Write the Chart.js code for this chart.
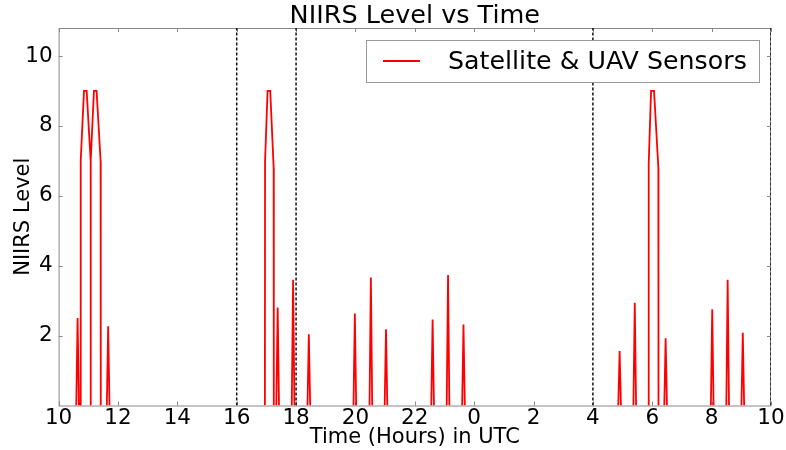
<!DOCTYPE html>
<html>
<head>
<meta charset="utf-8">
<script src="https://cdn.jsdelivr.net/npm/chart.js@4"></script>
<style>
  body { margin: 0; background: #fff; }
  canvas { display: block; }
</style>
</head>
<body>
<canvas id="myChart" width="786" height="450"></canvas>
<script>
// hours since 10:00 of day 1 (values past 24 wrap to the next day)
// null entries just break the line between passes
let timeHours = [
    10.595, 10.64, 10.685, 10.70,
    10.74, 10.745, 10.855, 10.945, 11.08, 11.08, 11.085, 11.19, 11.28, 11.415, 11.42, 11.50,
    11.625, 11.67, 11.715, 11.90,
    16.95, 16.955, 17.04, 17.13, 17.245, 17.25, 17.30,
    17.335, 17.38, 17.425, 17.60,
    17.855, 17.90, 17.945, 18.10,
    18.385, 18.43, 18.475, 19.00,
    19.935, 19.98, 20.025, 20.20,
    20.475, 20.52, 20.565, 20.80,
    20.985, 21.03, 21.075, 22.00,
    22.555, 22.60, 22.645, 22.90,
    23.075, 23.12, 23.165, 23.40,
    23.595, 23.64, 23.685, 26.00,
    28.855, 28.90, 28.945, 29.10,
    29.365, 29.41, 29.455, 29.70,
    29.875, 29.88, 29.96, 30.06, 30.205, 30.21, 30.30,
    30.405, 30.45, 30.495, 31.00,
    31.975, 32.02, 32.065, 32.30,
    32.495, 32.54, 32.585, 32.80,
    33.005, 33.05, 33.095
];
let niirsLevel = [
    0, 2.5, 0, null,
    0, 7.0, 9, 9, 7.0, 0, 7.0, 9, 9, 7.0, 0, null,
    0, 2.27, 0, null,
    0, 6.97, 9, 9, 6.8, 0, null,
    0, 2.8, 0, null,
    0, 3.6, 0, null,
    0, 2.04, 0, null,
    0, 2.63, 0, null,
    0, 3.66, 0, null,
    0, 2.18, 0, null,
    0, 2.46, 0, null,
    0, 3.73, 0, null,
    0, 2.32, 0, null,
    0, 1.56, 0, null,
    0, 2.94, 0, null,
    0, 6.92, 9, 9, 6.8, 0, null,
    0, 1.92, 0, null,
    0, 2.75, 0, null,
    0, 3.6, 0, null,
    0, 2.08, 0
];
let markerHours = [16, 18, 28, 34];
let xTicks = [10, 12, 14, 16, 18, 20, 22, 24, 26, 28, 30, 32, 34];
let yTicks = [2, 4, 6, 8, 10];
let yMax = 10.8;

let fontName = "'DejaVu Sans', sans-serif";

let points = timeHours.map(function(t, i) {
    return { x: t, y: niirsLevel[i] };
});

let markerSets = markerHours.map(function(h) {
    return {
        label: "",
        data: [{ x: h, y: 0 }, { x: h, y: yMax }],
        borderColor: "#111",
        borderWidth: 1.5,
        borderDash: [3, 2],
        pointRadius: 0,
        isMarker: true
    };
});

let framePlugin = {
    id: "frame",
    beforeDatasetsDraw: function(chart) {
        let ctx = chart.ctx;
        let a = chart.chartArea;
        let xs = chart.scales.x;
        let ys = chart.scales.y;
        ctx.save();
        ctx.strokeStyle = "#888";
        ctx.lineWidth = 1;
        ctx.strokeRect(a.left + 0.5, a.top + 0.5, a.right - a.left - 1, a.bottom - a.top);
        ctx.beginPath();
        xTicks.forEach(function(v) {
            let px = Math.round(xs.getPixelForValue(v)) + 0.5;
            ctx.moveTo(px, a.bottom); ctx.lineTo(px, a.bottom - 4);
            ctx.moveTo(px, a.top); ctx.lineTo(px, a.top + 4);
        });
        yTicks.forEach(function(v) {
            let py = Math.round(ys.getPixelForValue(v)) + 0.5;
            ctx.moveTo(a.left, py); ctx.lineTo(a.left + 4, py);
            ctx.moveTo(a.right, py); ctx.lineTo(a.right - 4, py);
        });
        ctx.stroke();
        ctx.restore();
    },
    afterDatasetsDraw: function(chart) {
        let ctx = chart.ctx;
        let a = chart.chartArea;
        ctx.save();

        // title over the plot
        ctx.fillStyle = "#000";
        ctx.font = "25.5px " + fontName;
        ctx.textAlign = "center";
        ctx.textBaseline = "middle";
        ctx.fillText("NIIRS Level vs Time", (a.left + a.right) / 2, 16);

        // legend box in the upper right
        let ds = chart.data.datasets.find(function(d) { return !d.isMarker; });
        let bx = 366, by = 40, bw = 393, bh = 42;
        ctx.fillStyle = "#fff";
        ctx.fillRect(bx, by, bw, bh);
        ctx.strokeStyle = "#999";
        ctx.lineWidth = 1;
        ctx.strokeRect(bx + 0.5, by + 0.5, bw, bh);
        ctx.strokeStyle = ds.borderColor;
        ctx.lineWidth = 2;
        ctx.beginPath();
        ctx.moveTo(bx + 17, by + bh / 2);
        ctx.lineTo(bx + 54, by + bh / 2);
        ctx.stroke();
        ctx.fillStyle = "#000";
        ctx.font = "25.3px " + fontName;
        ctx.textAlign = "left";
        ctx.fillText(ds.label, bx + 82, by + bh / 2 + 1);
        ctx.restore();
    }
};

let myChart = document.getElementById("myChart").getContext("2d");
let niirsChart = new Chart(myChart, {
    type: "line",
    data: {
        datasets: markerSets.concat([{
            label: "Satellite & UAV Sensors",
            data: points,
            borderColor: "#ff0000",
            borderWidth: 1.8,
            pointRadius: 0,
            tension: 0,
            spanGaps: false
        }])
    },
    options: {
        responsive: false,
        animation: false,
        layout: { padding: { top: 28, right: 15, left: 0, bottom: 0 } },
        plugins: {
            title: { display: false },
            legend: { display: false },
            tooltip: { enabled: false }
        },
        scales: {
            x: {
                type: "linear",
                min: 10,
                max: 34,
                afterBuildTicks: function(scale) {
                    scale.ticks = xTicks.map(function(v) { return { value: v }; });
                },
                afterFit: function(scale) { scale.height = 44.5; },
                ticks: {
                    color: "#000",
                    font: { family: fontName, size: 21.5 },
                    padding: 0,
                    maxRotation: 0,
                    autoSkip: false,
                    callback: function(value) { return value % 24; }
                },
                grid: { display: false, drawTicks: false },
                border: { display: false },
                title: {
                    display: true,
                    text: "Time (Hours) in UTC",
                    color: "#000",
                    font: { family: fontName, size: 21 },
                    padding: { top: 0, bottom: 0 }
                }
            },
            y: {
                min: 0,
                max: yMax,
                afterBuildTicks: function(scale) {
                    scale.ticks = yTicks.map(function(v) { return { value: v }; });
                },
                afterFit: function(scale) { scale.width = 58.6; },
                ticks: {
                    color: "#000",
                    font: { family: fontName, size: 21.5 },
                    padding: 6
                },
                grid: { display: false, drawTicks: false },
                border: { display: false },
                title: {
                    display: true,
                    text: "NIIRS Level",
                    color: "#000",
                    font: { family: fontName, size: 21 },
                    padding: { top: 11, bottom: 0 }
                }
            }
        }
    },
    plugins: [framePlugin]
});
</script>
</body>
</html>
